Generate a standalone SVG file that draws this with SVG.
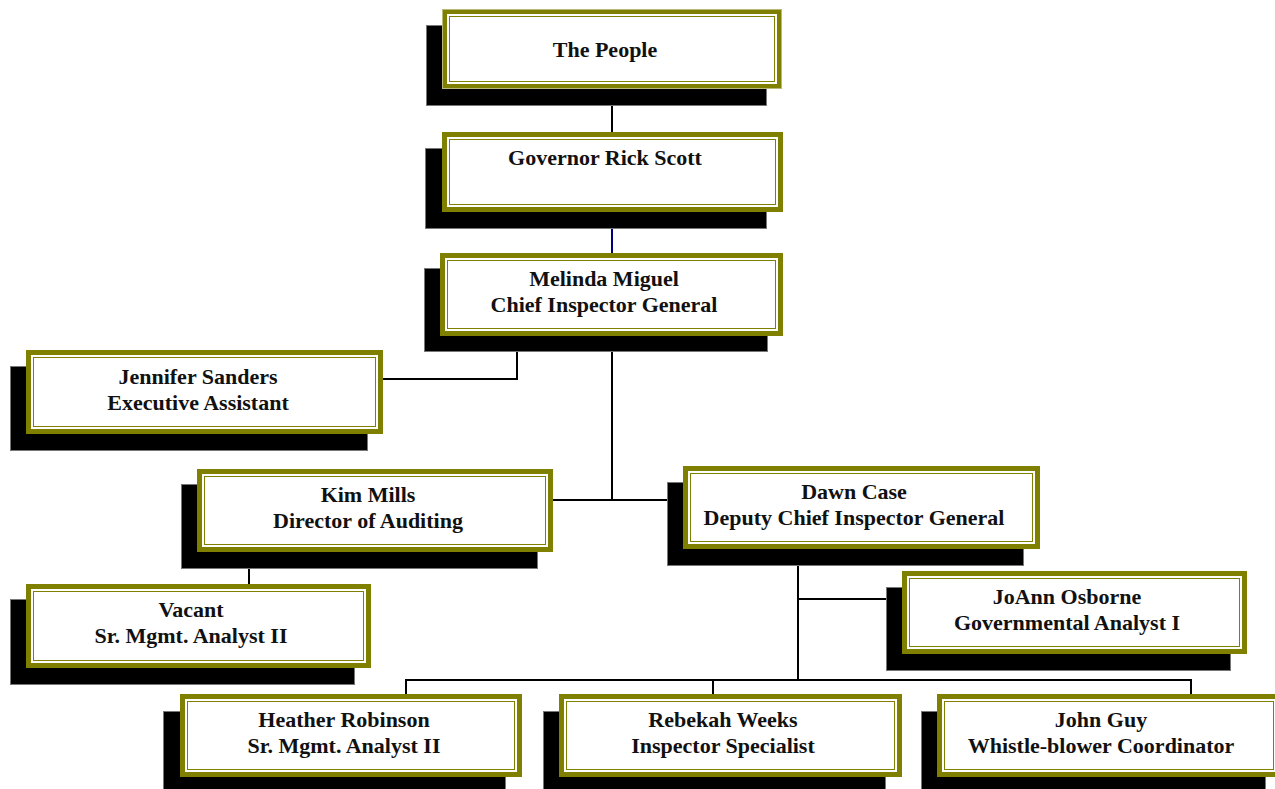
<svg xmlns="http://www.w3.org/2000/svg" width="1275" height="789" viewBox="0 0 1275 789">
<style>
.shadow{fill:#000;stroke:#777;stroke-width:1}
.frame{fill:#808000}
.frame-hi{fill:none;stroke:#b9b97a;stroke-width:1}
.inner{fill:#fff}
.line{fill:none;stroke:#808000;stroke-width:1}
.t{font-family:"Liberation Serif","Times New Roman",serif;font-weight:bold;font-size:22px;fill:#111;text-anchor:middle}
.conn{fill:none;stroke:#000;stroke-width:2}
.conn-navy{fill:none;stroke:#000080;stroke-width:2}
</style>
<rect width="1275" height="789" fill="#fff"/>
<g id="connectors">
<line class="conn" x1="612" y1="106" x2="612" y2="132"/>
<line class="conn-navy" x1="612" y1="228" x2="612" y2="253"/>
<path class="conn" d="M517 352 V379 H383"/>
<path class="conn" d="M612 352 V500"/>
<path class="conn" d="M553 500 H667"/>
<path class="conn" d="M249 568 V584"/>
<path class="conn" d="M798 565 V680"/>
<path class="conn" d="M798 599 H886"/>
<path class="conn" d="M406 694 V680 H1191 V694"/>
<path class="conn" d="M713 680 V694"/>
</g>
<g id="n-people">
<rect class="shadow" x="426.5" y="25.5" width="340" height="80"/>
<rect class="frame" x="442" y="9" width="340" height="80"/>
<rect class="frame-hi" x="442.5" y="9.5" width="339" height="79"/>
<rect class="inner" x="447" y="14" width="330" height="70"/>
<rect class="line" x="449.5" y="16.5" width="325" height="65"/>
<text class="t" x="605" y="57">The People</text>
</g>
<g id="n-governor">
<rect class="shadow" x="425.5" y="148.5" width="341" height="80"/>
<rect class="frame" x="442" y="132" width="341" height="80"/>
<rect class="inner" x="447" y="137" width="331" height="70"/>
<rect class="line" x="449.5" y="139.5" width="326" height="65"/>
<text class="t" x="605" y="165">Governor Rick Scott</text>
</g>
<g id="n-melinda">
<rect class="shadow" x="424.5" y="268.5" width="343" height="83"/>
<rect class="frame" x="440" y="253" width="343" height="83"/>
<rect class="inner" x="445" y="258" width="333" height="73"/>
<rect class="line" x="447.5" y="260.5" width="328" height="68"/>
<text class="t" x="604" y="286">Melinda Miguel</text>
<text class="t" x="604" y="312">Chief Inspector General</text>
</g>
<g id="n-jennifer">
<rect class="shadow" x="10.5" y="366.5" width="357" height="84"/>
<rect class="frame" x="26" y="350" width="357" height="84"/>
<rect class="inner" x="31" y="355" width="347" height="74"/>
<rect class="line" x="33.5" y="357.5" width="342" height="69"/>
<text class="t" x="198" y="384">Jennifer Sanders</text>
<text class="t" x="198" y="410">Executive Assistant</text>
</g>
<g id="n-kim">
<rect class="shadow" x="181.5" y="484.5" width="356" height="84"/>
<rect class="frame" x="197" y="469" width="356" height="83"/>
<rect class="inner" x="202" y="474" width="346" height="73"/>
<rect class="line" x="204.5" y="476.5" width="341" height="68"/>
<text class="t" x="368" y="502">Kim Mills</text>
<text class="t" x="368" y="528">Director of Auditing</text>
</g>
<g id="n-dawn">
<rect class="shadow" x="667.5" y="482.5" width="356" height="83"/>
<rect class="frame" x="683" y="466" width="357" height="83"/>
<rect class="inner" x="688" y="471" width="347" height="73"/>
<rect class="line" x="690.5" y="473.5" width="342" height="68"/>
<text class="t" x="854" y="499">Dawn Case</text>
<text class="t" x="854" y="525">Deputy Chief Inspector General</text>
</g>
<g id="n-vacant">
<rect class="shadow" x="10.5" y="599.5" width="344" height="85"/>
<rect class="frame" x="26" y="584" width="345" height="84"/>
<rect class="inner" x="31" y="589" width="335" height="74"/>
<rect class="line" x="33.5" y="591.5" width="330" height="69"/>
<text class="t" x="191" y="617">Vacant</text>
<text class="t" x="191" y="643">Sr. Mgmt. Analyst II</text>
</g>
<g id="n-joann">
<rect class="shadow" x="886.5" y="587.5" width="344" height="83"/>
<rect class="frame" x="902" y="571" width="345" height="83"/>
<rect class="inner" x="907" y="576" width="335" height="73"/>
<rect class="line" x="909.5" y="578.5" width="330" height="68"/>
<text class="t" x="1067" y="604">JoAnn Osborne</text>
<text class="t" x="1067" y="630">Governmental Analyst I</text>
</g>
<g id="n-heather">
<rect class="shadow" x="163.5" y="711.5" width="342" height="84"/>
<rect class="frame" x="180" y="694" width="342" height="83"/>
<rect class="inner" x="185" y="699" width="332" height="73"/>
<rect class="line" x="187.5" y="701.5" width="327" height="68"/>
<text class="t" x="344" y="727">Heather Robinson</text>
<text class="t" x="344" y="753">Sr. Mgmt. Analyst II</text>
</g>
<g id="n-rebekah">
<rect class="shadow" x="543.5" y="711.5" width="342" height="84"/>
<rect class="frame" x="559" y="694" width="343" height="83"/>
<rect class="inner" x="564" y="699" width="333" height="73"/>
<rect class="line" x="566.5" y="701.5" width="328" height="68"/>
<text class="t" x="723" y="727">Rebekah Weeks</text>
<text class="t" x="723" y="753">Inspector Specialist</text>
</g>
<g id="n-john">
<rect class="shadow" x="921.5" y="711.5" width="344" height="84"/>
<rect class="frame" x="937" y="694" width="344" height="83"/>
<rect class="inner" x="942" y="699" width="334" height="73"/>
<rect class="line" x="944.5" y="701.5" width="329" height="68"/>
<text class="t" x="1101" y="727">John Guy</text>
<text class="t" x="1101" y="753">Whistle-blower Coordinator</text>
</g>
</svg>
